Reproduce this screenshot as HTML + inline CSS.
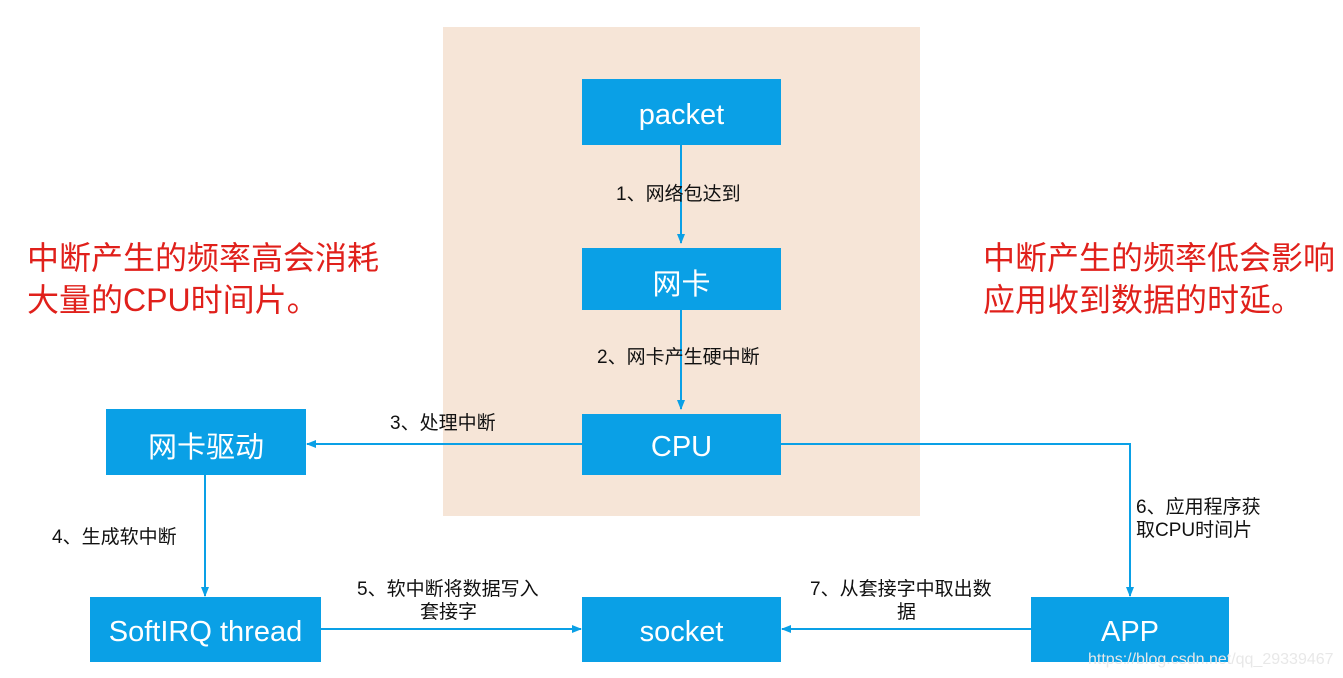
<!DOCTYPE html>
<html><head><meta charset="utf-8"><style>
body{margin:0;width:1343px;height:678px;background:#fff;position:relative;overflow:hidden;font-family:"Liberation Sans","Noto Sans CJK SC",sans-serif}
.bg{position:absolute;left:443px;top:27px;width:477px;height:489px;background:#f6e5d7}
.b{position:absolute;background:#0aa0e6;color:#fff;font-size:29px;display:flex;align-items:center;justify-content:center;box-sizing:border-box;padding-top:6px}
.t{position:absolute;font-size:19px;color:#111;line-height:23px;white-space:nowrap}
.r{position:absolute;font-size:32px;color:#e0201b;line-height:42px;white-space:nowrap}
svg{position:absolute;left:0;top:0}
</style></head><body>
<div class="bg"></div>
<svg width="1343" height="678">
<defs><marker id="a" markerWidth="10" markerHeight="10" refX="9" refY="5" orient="auto" markerUnits="userSpaceOnUse"><path d="M0,1 L10,5 L0,9 z" fill="#0aa0e6"/></marker></defs>
<g stroke="#0aa0e6" stroke-width="2" fill="none">
<line x1="681" y1="145" x2="681" y2="243" marker-end="url(#a)"/>
<line x1="681" y1="310" x2="681" y2="409" marker-end="url(#a)"/>
<line x1="582" y1="444" x2="307" y2="444" marker-end="url(#a)"/>
<line x1="205" y1="475" x2="205" y2="596" marker-end="url(#a)"/>
<line x1="321" y1="629" x2="581" y2="629" marker-end="url(#a)"/>
<polyline points="781,444 1130,444 1130,596" marker-end="url(#a)"/>
<line x1="1031" y1="629" x2="782" y2="629" marker-end="url(#a)"/>
</g></svg>
<div class="b" style="left:582px;top:79px;width:199px;height:66px">packet</div>
<div class="b" style="left:582px;top:248px;width:199px;height:62px">网卡</div>
<div class="b" style="left:582px;top:414px;width:199px;height:61px">CPU</div>
<div class="b" style="left:106px;top:409px;width:200px;height:66px">网卡驱动</div>
<div class="b" style="left:90px;top:597px;width:231px;height:65px">SoftIRQ thread</div>
<div class="b" style="left:582px;top:597px;width:199px;height:65px">socket</div>
<div class="b" style="left:1031px;top:597px;width:198px;height:65px">APP</div>
<div class="t" style="left:616px;top:183px">1、网络包达到</div>
<div class="t" style="left:597px;top:346px">2、网卡产生硬中断</div>
<div class="t" style="left:390px;top:412px">3、处理中断</div>
<div class="t" style="left:52px;top:526px">4、生成软中断</div>
<div class="t" style="left:357px;top:578px">5、软中断将数据写入<br><span style="padding-left:63px">套接字</span></div>
<div class="t" style="left:1136px;top:496px">6、应用程序获<br>取CPU时间片</div>
<div class="t" style="left:810px;top:578px">7、从套接字中取出数<br><span style="padding-left:87px">据</span></div>
<div class="r" style="left:27px;top:237px">中断产生的频率高会消耗<br>大量的CPU时间片。</div>
<div class="r" style="left:983px;top:237px">中断产生的频率低会影响<br>应用收到数据的时延。</div>
<div class="t" style="left:1088px;top:648px;font-size:16px;color:#e8e8e8">https://blog.csdn.net/qq_29339467</div>
</body></html>
